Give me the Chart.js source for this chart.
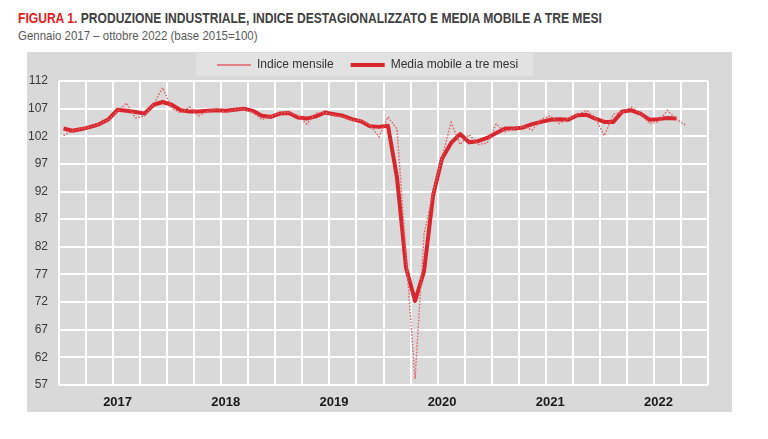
<!DOCTYPE html>
<html lang="it">
<head>
<meta charset="utf-8">
<title>Produzione industriale</title>
<script src="https://cdn.jsdelivr.net/npm/chart.js@4.4.1/dist/chart.umd.min.js"></script>
<style>
    body {
        margin: 0;
        background: #ffffff;
        font-family: "Liberation Sans", Arial, sans-serif;
    }
    .title {
        position: absolute;
        left: 18px;
        top: 9px;
        font-size: 15.5px;
        font-weight: bold;
        color: #404040;
        white-space: nowrap;
        transform: scaleX(0.78);
        transform-origin: left top;
    }
    .title span {
        color: #e3211d;
    }
    .subtitle {
        position: absolute;
        left: 18px;
        top: 28px;
        font-size: 13.5px;
        color: #595959;
        white-space: nowrap;
        transform: scaleX(0.85);
        transform-origin: left top;
    }
    .chart-box {
        position: absolute;
        left: 27px;
        top: 52px;
        width: 705px;
        height: 360px;
        background: #d9d9d9;
    }
</style>
</head>
<body>
<div class="title"><span>FIGURA 1.</span> PRODUZIONE INDUSTRIALE, INDICE DESTAGIONALIZZATO E MEDIA MOBILE A TRE MESI</div>
<div class="subtitle">Gennaio 2017 – ottobre 2022 (base 2015=100)</div>
<div class="chart-box"><canvas id="prodChart"></canvas></div>

<script>
// Years shown on the axis, one tick per month (Jan 2017 - Dec 2022)
const years = ['2017', '2018', '2019', '2020', '2021', '2022'];
const months = ['gen', 'feb', 'mar', 'apr', 'mag', 'giu', 'lug', 'ago', 'set', 'ott', 'nov', 'dic'];
const monthLabels = years.flatMap(y => months.map(m => m + ' ' + y));

// Indice mensile (gen 2017 - ott 2022)
const indiceMensile = [
    102.1, 103.0, 103.4, 103.7, 104.2, 105.0, 106.6, 108.0, 105.3, 105.7, 107.8, 110.8,
    107.1, 106.2, 107.3, 105.7, 106.5, 107.0, 106.3, 106.8, 107.0, 106.3, 105.0, 105.6,
    106.2, 106.3, 105.8, 104.2, 106.2, 106.3, 105.8, 105.5, 104.9, 104.9, 104.0, 101.9,
    105.5, 103.3, 80.5, 58.1, 84.3, 91.8, 98.2, 104.5, 100.5, 102.3, 100.5, 100.8,
    104.2, 102.8, 103.4, 103.8, 103.1, 105.1, 105.7, 104.3, 105.2, 105.9, 106.7, 105.3,
    102.1, 106.0, 106.3, 107.3, 106.1, 104.3, 104.6, 106.7, 105.1, 104.0
];

// Media mobile a tre mesi (last month not available)
const mediaMobile = [
    103.4, 103.0, 103.3, 103.7, 104.2, 105.1, 106.8, 106.6, 106.4, 106.1, 107.7, 108.2,
    107.7, 106.7, 106.5, 106.5, 106.6, 106.7, 106.6, 106.8, 107.0, 106.6, 105.7, 105.5,
    106.1, 106.2, 105.4, 105.2, 105.6, 106.3, 106.0, 105.7, 105.1, 104.7, 103.8, 103.7,
    103.9, 94.5, 78.2, 72.2, 77.6, 91.3, 98.0, 100.8, 102.4, 100.9, 101.1, 101.7,
    102.6, 103.4, 103.4, 103.6, 104.2, 104.6, 105.0, 105.1, 105.0, 105.8, 105.9, 105.2,
    104.6, 104.6, 106.5, 106.7, 106.1, 105.0, 105.1, 105.3, 105.2, null
];

const FONT = '"Liberation Sans", Arial, sans-serif';

// light box behind the legend, like the original
const legendBox = {
    id: 'legendBox',
    beforeDraw(chart) {
        const legend = chart.legend;
        const boxes = legend.legendHitBoxes;
        if (!boxes || !boxes.length) return;
        const last = boxes[boxes.length - 1];
        const left = boxes[0].left - 21;
        const right = last.left + last.width + 15;
        const c = chart.ctx;
        c.save();
        c.fillStyle = '#e2e2e2';
        c.fillRect(left, legend.top + 1, right - left, 23);
        c.restore();
    }
};

document.addEventListener('DOMContentLoaded', function() {
    const ctx = document.getElementById('prodChart').getContext('2d');
    new Chart(ctx, {
        type: 'line',
        data: {
            labels: monthLabels,
            datasets: [{
                label: 'Indice mensile',
                data: indiceMensile,
                borderColor: '#e25f66',
                borderWidth: 1.4,
                borderDash: [1.6, 1.6],
                pointRadius: 0,
                tension: 0
            }, {
                label: 'Media mobile a tre mesi',
                data: mediaMobile,
                borderColor: '#d7262d',
                borderWidth: 4,
                pointRadius: 0,
                tension: 0,
                borderJoinStyle: 'round'
            }]
        },
        options: {
            responsive: true,
            maintainAspectRatio: false,
            animation: false,
            layout: {
                padding: { top: 0, right: 24, bottom: 0, left: 0 }
            },
            plugins: {
                legend: {
                    position: 'top',
                    labels: {
                        usePointStyle: true,
                        pointStyle: 'line',
                        pointStyleWidth: 34,
                        padding: 7,
                        color: '#333333',
                        font: { family: FONT, size: 12 },
                        generateLabels: function(chart) {
                            const items = Chart.defaults.plugins.legend.labels.generateLabels(chart);
                            // a bit more room between the two entries
                            items[0].text = items[0].text + '   ';
                            return items;
                        }
                    }
                },
                tooltip: { enabled: false }
            },
            scales: {
                x: {
                    offset: true,
                    afterFit: function(scale) { scale.height = 27; },
                    grid: {
                        offset: true,
                        drawTicks: false,
                        lineWidth: 2,
                        color: c => (c.index === undefined || c.index % 3 === 0) ? '#ffffff' : 'rgba(0,0,0,0)'
                    },
                    border: { display: false },
                    ticks: {
                        autoSkip: false,
                        maxRotation: 0,
                        padding: 10,
                        color: '#1a1a1a',
                        font: { family: FONT, size: 13, weight: 'bold' },
                        callback: (val, idx) => idx % 12 === 6 ? years[Math.floor(idx / 12)] : ''
                    }
                },
                y: {
                    min: 57,
                    max: 112,
                    afterFit: function(scale) { scale.width = 32; },
                    grid: {
                        drawTicks: false,
                        lineWidth: 2,
                        color: '#ffffff'
                    },
                    border: { display: false },
                    ticks: {
                        stepSize: 5,
                        padding: 11,
                        color: '#3a3a3a',
                        font: { family: FONT, size: 12 }
                    }
                }
            }
        },
        plugins: [legendBox]
    });
});
</script>
</body>
</html>
